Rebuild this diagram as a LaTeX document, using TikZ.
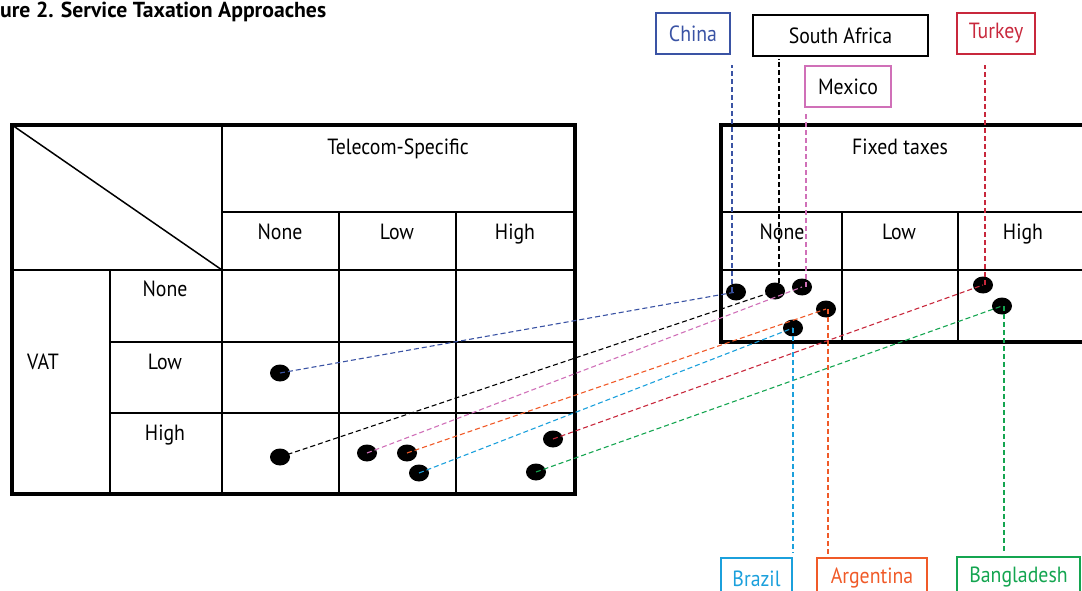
\documentclass[tikz,border=0pt]{standalone}
\usepackage{fontspec}
\setmainfont{PT Sans}[FakeStretch=0.9]
\newfontfamily\headfont{PT Sans}
\usepackage{tikz}
\usetikzlibrary{shapes.geometric}

\definecolor{chinablue}{RGB}{58,83,164}
\definecolor{mexpink}{RGB}{208,112,184}
\definecolor{turkred}{RGB}{200,40,60}
\definecolor{brazcyan}{RGB}{27,160,220}
\definecolor{argorange}{RGB}{240,90,40}
\definecolor{bangreen}{RGB}{20,165,80}

\tikzset{
	dot/.style={shape=ellipse, fill=black, minimum width=20pt, minimum height=17pt, inner sep=0pt},
	cell/.style={anchor=base, font=\fontsize{22}{26}\selectfont},
	tag/.style={shape=rectangle, draw, line width=1.2pt, minimum height=41pt, inner sep=0pt, font=\fontsize{22}{26}\selectfont},
	link/.style={dash pattern=on 5pt off 3pt, line width=1.1pt},
	outer/.style={line width=3.5pt},
	inner/.style={line width=1.5pt},
}

\begin{document}
\begin{tikzpicture}[x=1pt, y=-1pt]
				\useasboundingbox (0,0) rectangle (1082,591);
				\clip (0,0) rectangle (1082,591);
				\node[anchor=base west, inner sep=0pt, font=\headfont\fontsize{21.7}{24}\selectfont\bfseries] (title) at (0,18) {ure 2. Service Taxation Approaches};

				% Telecom / VAT table:
				\draw[inner] (222,125) -- (222,494);
				\draw[inner] (12,125) -- (222,270);
				\draw[inner] (222,212) -- (575,212);
				\draw[inner] (12,270) -- (575,270);
				\draw[inner] (110,270) -- (110,494);
				\draw[inner] (339,212) -- (339,494);
				\draw[inner] (456,212) -- (456,494);
				\draw[inner] (110,342) -- (575,342);
				\draw[inner] (110,413) -- (575,413);
				\draw[outer] (12,125) rectangle (575,494);
				\node[cell] (telecom) at (398,155) {Telecom-Specific};
				\node[cell] (tNone) at (280,239) {None};
				\node[cell] (tLow) at (397,239) {Low};
				\node[cell] (tHigh) at (515,239) {High};
				\node[cell] (vat) at (43,369) {VAT};
				\node[cell] (vNone) at (165,296) {None};
				\node[cell] (vLow) at (165,369) {Low};
				\node[cell] (vHigh) at (165,440) {High};

				% Fixed taxes table:
				\draw[inner] (721,212) -- (1090,212);
				\draw[inner] (721,270) -- (1090,270);
				\draw[inner] (842,212) -- (842,342);
				\draw[inner] (958,212) -- (958,342);
				\draw[outer] (721,125) rectangle (1090,342);
				\node[cell] (fixed) at (900,155) {Fixed taxes};
				\node[cell] (fNone) at (782,239) {None};
				\node[cell] (fLow) at (899,239) {Low};
				\node[cell] (fHigh) at (1023,239) {High};

				% Countries:
				\node[dot] (chinaL) at (280,373){};
				\node[dot] (safL) at (280,457){};
				\node[dot] (mexL) at (367,453){};
				\node[dot] (argL) at (407,453){};
				\node[dot] (brazL) at (419,473){};
				\node[dot] (turkL) at (553,439){};
				\node[dot] (bangL) at (536,472){};
				\node[dot] (chinaR) at (736,292){};
				\node[dot] (safR) at (775,291){};
				\node[dot] (mexR) at (802,287){};
				\node[dot] (argR) at (826,309){};
				\node[dot] (brazR) at (793,328){};
				\node[dot] (turkR) at (983,285){};
				\node[dot] (bangR) at (1002,306){};

				\node[tag, chinablue, minimum width=74pt] (chinaTag) at (693,33.5) {China};
				\node[tag, black, minimum width=175pt] (safTag) at (840.5,35.5) {South Africa};
				\node[tag, mexpink, text=black, minimum width=86pt] (mexTag) at (848,86.5) {Mexico};
				\node[tag, turkred, minimum width=78pt] (turkTag) at (996,33.5) {Turkey};
				\node[tag, brazcyan, minimum width=71pt] (brazTag) at (756.5,578.5) {Brazil};
				\node[tag, argorange, minimum width=110pt] (argTag) at (872,578.5) {Argentina};
				\node[tag, bangreen, minimum width=123pt] (bangTag) at (1018.5,577.5) {Bangladesh};

				\draw[link, chinablue] (chinaL.center) -- (chinaR.center);
				\draw[link, black] (safL.center) -- (safR.center);
				\draw[link, mexpink] (mexL.center) -- (mexR.center);
				\draw[link, argorange] (argL.center) -- (argR.center);
				\draw[link, brazcyan] (brazL.center) -- (brazR.center);
				\draw[link, turkred] (turkL.center) -- (turkR.center);
				\draw[link, bangreen] (bangL.center) -- (bangR.center);

				\draw[link, chinablue, shorten >=10pt] ([xshift=-4pt]chinaR.center) -- ([xshift=-4pt]chinaR.center |- chinaTag.south);
				\draw[link, black, shorten >=2pt] ([xshift=4pt]safR.center) -- ([xshift=4pt]safR.center |- safTag.south);
				\draw[link, mexpink, shorten >=4pt] ([xshift=4pt]mexR.center) -- ([xshift=4pt]mexR.center |- mexTag.south);
				\draw[link, turkred, shorten >=10pt] ([xshift=2pt]turkR.center) -- ([xshift=2pt]turkR.center |- turkTag.south);
				\draw[link, brazcyan, shorten >=5pt] (brazR.center) -- (brazR.center |- brazTag.north);
				\draw[link, argorange, shorten >=3pt] ([xshift=2pt]argR.center) -- ([xshift=2pt]argR.center |- argTag.north);
				\draw[link, bangreen, shorten >=4pt] ([xshift=2pt]bangR.center) -- ([xshift=2pt]bangR.center |- bangTag.north);
\end{tikzpicture}
\end{document}
